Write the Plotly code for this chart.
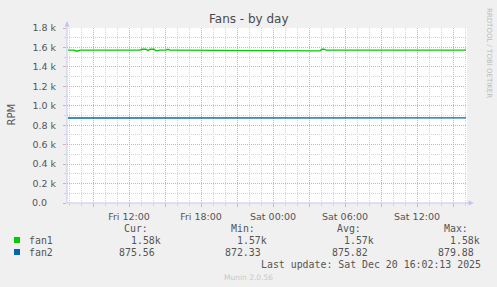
import pandas as pd
import plotly.graph_objects as go

W, H = 497, 287
L, R, T, B = 67, 467, 28, 203  # plot area pixels

start = "2025-12-19 06:55"
fan1 = [
    1572, 1572, 1572, 1572, 1564, 1564, 1572, 1572, 1572, 1572, 1572, 1572, 1572, 1572, 1565, 1572, 1572, 1572, 1572, 1572,
    1572, 1572, 1572, 1572, 1572, 1572, 1572, 1572, 1572, 1572, 1572, 1572, 1572, 1572, 1572, 1572, 1572, 1581, 1581, 1581,
    1567, 1581, 1581, 1581, 1565, 1572, 1572, 1572, 1572, 1572, 1581, 1572, 1572, 1572, 1572, 1572, 1572, 1572, 1572, 1572,
    1572, 1572, 1572, 1572, 1572, 1572, 1572, 1572, 1572, 1572, 1572, 1572, 1572, 1572, 1572, 1572, 1572, 1572, 1572, 1572,
    1572, 1572, 1572, 1572, 1572, 1572, 1572, 1572, 1572, 1572, 1572, 1572, 1572, 1572, 1572, 1572, 1572, 1572, 1572, 1572,
    1572, 1572, 1572, 1572, 1572, 1572, 1572, 1572, 1572, 1572, 1572, 1572, 1572, 1572, 1572, 1572, 1572, 1572, 1572, 1572,
    1572, 1572, 1572, 1572, 1572, 1572, 1565, 1582, 1582, 1572, 1572, 1572, 1572, 1572, 1565, 1572, 1572, 1566, 1572, 1572,
    1572, 1572, 1572, 1572, 1572, 1572, 1572, 1572, 1567, 1572, 1572, 1572, 1572, 1572, 1572, 1572, 1572, 1572, 1572, 1572,
    1572, 1572, 1572, 1572, 1572, 1572, 1572, 1572, 1567, 1572, 1572, 1572, 1572, 1572, 1572, 1572, 1572, 1572, 1572, 1572,
    1572, 1572, 1572, 1572, 1572, 1572, 1572, 1572, 1572, 1572, 1572, 1572, 1572, 1572, 1572, 1572, 1572, 1572, 1572, 1574,
]
fan2 = [
    875, 875, 875, 875, 875, 875, 875, 875, 875, 875, 875, 875, 875, 875, 875, 875, 875, 875, 875, 875,
    875, 875, 875, 875, 875, 875, 875, 875, 875, 875, 875, 875, 875, 875, 875, 875, 875, 875, 875, 875,
    875, 875, 875, 875, 875, 875, 875, 875, 875, 875, 875, 875, 875, 875, 875, 875, 875, 875, 875, 875,
    875, 875, 875, 875, 875, 875, 875, 875, 875, 875, 875, 875, 875, 875, 875, 875, 875, 875, 875, 875,
    875, 875, 875, 875, 875, 875, 875, 875, 875, 875, 875, 875, 875, 875, 875, 875, 875, 875, 875, 875,
    875, 875, 875, 875, 875, 875, 875, 875, 875, 875, 875, 875, 875, 875, 875, 875, 875, 875, 875, 875,
    875, 875, 875, 875, 875, 875, 875, 875, 880, 875, 875, 875, 875, 875, 875, 875, 875, 875, 875, 875,
    875, 875, 875, 875, 875, 875, 875, 875, 875, 875, 875, 875, 875, 875, 875, 875, 875, 875, 875, 875,
    875, 875, 875, 875, 875, 875, 875, 875, 875, 875, 875, 875, 875, 875, 875, 875, 875, 875, 875, 875,
    875, 875, 875, 875, 875, 875, 875, 875, 875, 875, 875, 875, 875, 875, 875, 875, 875, 875, 875, 876,
]
times = pd.date_range(start, periods=len(fan1), freq="10min")

x_range = ["2025-12-19 06:50", "2025-12-20 16:10"]
x_tickvals = ["2025-12-19 09:00", "2025-12-19 12:00", "2025-12-19 15:00", "2025-12-19 18:00",
              "2025-12-19 21:00", "2025-12-20 00:00", "2025-12-20 03:00", "2025-12-20 06:00",
              "2025-12-20 09:00", "2025-12-20 12:00", "2025-12-20 15:00"]
x_ticktext = ["", "Fri 12:00", "", "Fri 18:00", "", "Sat 00:00", "", "Sat 06:00", "", "Sat 12:00", ""]
y_tickvals = [0, 200, 400, 600, 800, 1000, 1200, 1400, 1600, 1800]
y_ticktext = ["0.0\u00a0\u00a0\u00a0", "0.2 k", "0.4 k", "0.6 k", "0.8 k", "1.0 k", "1.2 k", "1.4 k", "1.6 k", "1.8 k"]

names = ["fan1", "fan2"]
colors = ["#00cc00", "#0066b3"]
headers = ["Cur:", "Min:", "Avg:", "Max:"]
fan1_stats = ["1.58k", "1.57k", "1.57k", "1.58k"]
fan2_stats = ["875.56", "872.33", "875.82", "879.88"]

MAJ = "#e6a8a8"
MIN = "#d4d4d4"
AX = "#c4c4f0"

fig = go.Figure()
fig.add_trace(go.Scatter(x=times, y=fan1, mode="lines", line=dict(color=colors[0], width=1.4), name=names[0]))
fig.add_trace(go.Scatter(x=times, y=fan2, mode="lines", line=dict(color=colors[1], width=1.4), name=names[1]))


def px(x):
    return (x - L) / (R - L)


def py(y):
    return (B - y) / (B - T)


mono = dict(family="DejaVu Sans Mono", size=9.9, color="#555555")
ann = []
ann.append(dict(text="Fans - by day", x=px(248.5), y=py(19), xref="paper", yref="paper",
                showarrow=False, xanchor="center", yanchor="middle",
                font=dict(family="DejaVu Sans", size=12, color="#4a4a4a")))
ann.append(dict(text="RPM", x=px(10.5), y=py(115), xref="paper", yref="paper", showarrow=False,
                textangle=-90, xanchor="center", yanchor="middle",
                font=dict(family="DejaVu Sans", size=10, color="#555555")))
ann.append(dict(text="RRDTOOL / TOBI OETIKER", x=px(489), y=py(53), xref="paper", yref="paper",
                showarrow=False, textangle=90, xanchor="center", yanchor="middle",
                font=dict(family="DejaVu Sans", size=7, color="#bbbbbb")))
for i, h in enumerate(headers):
    ann.append(dict(text=h, x=px(150 + 106.6 * i), y=py(228), xref="paper", yref="paper",
                    showarrow=False, xanchor="right", yanchor="middle", font=mono))
    ann.append(dict(text=fan1_stats[i], x=px(162.5 + 106.6 * i), y=py(240), xref="paper", yref="paper",
                    showarrow=False, xanchor="right", yanchor="middle", font=mono))
    ann.append(dict(text=fan2_stats[i], x=px(156.5 + 106.6 * i), y=py(252), xref="paper", yref="paper",
                    showarrow=False, xanchor="right", yanchor="middle", font=mono))
for j, n in enumerate(names):
    ann.append(dict(text=n, x=px(27), y=py(240 + 12 * j), xref="paper", yref="paper",
                    showarrow=False, xanchor="left", yanchor="middle", font=mono))
ann.append(dict(text="Last update: Sat Dec 20 16:02:13 2025", x=px(483), y=py(264), xref="paper",
                yref="paper", showarrow=False, xanchor="right", yanchor="middle", font=mono))
ann.append(dict(text="Munin 2.0.56", x=px(248), y=py(277), xref="paper", yref="paper",
                showarrow=False, xanchor="center", yanchor="middle",
                font=dict(family="DejaVu Sans", size=7.5, color="#c8c8c8")))

shapes = []
for j, c in enumerate(colors):
    shapes.append(dict(type="rect", xref="paper", yref="paper", x0=px(14), x1=px(20),
                       y0=py(237 + 12 * j), y1=py(243 + 12 * j), fillcolor=c, line=dict(width=0)))
# axis extensions and arrows
shapes.append(dict(type="line", xref="paper", yref="paper", x0=px(67), x1=px(67), y0=py(203), y1=py(24),
                   line=dict(color=AX, width=1)))
shapes.append(dict(type="path", xref="paper", yref="paper",
                   path=f"M {px(64.5)} {py(26.5)} L {px(69.5)} {py(26.5)} L {px(67)} {py(21)} Z",
                   fillcolor=AX, line=dict(width=0)))
shapes.append(dict(type="line", xref="paper", yref="paper", x0=px(67), x1=px(471), y0=py(203), y1=py(203),
                   line=dict(color=AX, width=1)))
shapes.append(dict(type="path", xref="paper", yref="paper",
                   path=f"M {px(468.5)} {py(200.5)} L {px(468.5)} {py(205.5)} L {px(474)} {py(203)} Z",
                   fillcolor=AX, line=dict(width=0)))

tickfont = dict(family="DejaVu Sans", size=9.5, color="#555555")
fig.update_layout(
    width=W, height=H,
    margin=dict(l=L, r=W - R, t=T, b=H - B, pad=0),
    paper_bgcolor="#f0f0f0", plot_bgcolor="#ffffff",
    showlegend=False,
    annotations=ann, shapes=shapes,
    xaxis=dict(type="date", range=x_range, tickmode="array", tickvals=x_tickvals, ticktext=x_ticktext,
               showgrid=True, gridcolor=MAJ, griddash="1px,1px", gridwidth=1,
               ticks="outside", ticklen=3, tickcolor=MAJ, tickwidth=1,
               minor=dict(dtick=3600000, tick0="2025-12-19 07:00", showgrid=True, gridcolor=MIN,
                          griddash="1px,1px", ticks="outside", ticklen=2, tickcolor=MIN),
               showline=False, zeroline=False, tickfont=tickfont, ticklabelstandoff=2, fixedrange=True),
    yaxis=dict(range=[0, 1800], tickmode="array", tickvals=y_tickvals, ticktext=y_ticktext,
               showgrid=True, gridcolor=MAJ, griddash="1px,1px", gridwidth=1,
               ticks="outside", ticklen=3, tickcolor=MAJ, tickwidth=1,
               minor=dict(dtick=100, showgrid=True, gridcolor=MIN, griddash="1px,1px",
                          ticks="outside", ticklen=2, tickcolor=MIN),
               showline=False, zeroline=False, tickfont=tickfont, ticklabelstandoff=5, fixedrange=True),
)

fig.write_html("out.html", config={"displayModeBar": False})
